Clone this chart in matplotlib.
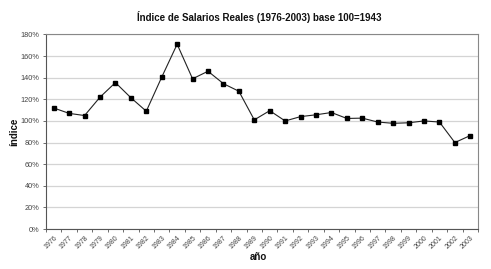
import matplotlib
matplotlib.use("Agg")
import matplotlib.pyplot as plt
from matplotlib.ticker import FixedLocator

plt.rcParams['font.family'] = ['Liberation Sans', 'DejaVu Sans']

years = [str(y) for y in range(1976, 2004)]
values = [112, 107, 105, 122, 135.5, 121.5, 109, 140.5, 171, 139, 146, 134.5, 127.5, 101,
          109.5, 100, 104, 105.7, 107.8, 102.3, 102.6, 99, 97.8, 98.3, 100, 99, 80, 86.5]
yticks = [0, 20, 40, 60, 80, 100, 120, 140, 160, 180]

fig = plt.figure(figsize=(4.91, 2.69), dpi=100)
ax = fig.add_axes([46/491, 1-229/269, (478-46)/491, (229-34.5)/269])

x = list(range(len(years)))
ax.plot(x, values, color='#222222', lw=0.8, marker='s', ms=2.4, mfc='black', mec='black')

ax.set_xlim(-0.5, len(years) - 0.5)
ax.set_ylim(0, 180)
ax.set_yticks(yticks)
ax.set_yticklabels([f"{v}%" for v in yticks], fontsize=5.3, color='#444444')
ax.set_xticks(x)
ax.set_xticklabels(years, rotation=45, ha='right', rotation_mode='anchor', fontsize=5, color='#444444')
ax.tick_params(axis='x', length=0, pad=4)
ax.xaxis.set_minor_locator(FixedLocator([i - 0.5 for i in range(len(years) + 1)]))
ax.tick_params(axis='x', which='minor', length=2.5, color='#555555', width=0.6)
ax.tick_params(axis='y', length=2, color='#555555', width=0.6, pad=2.5)

ax.grid(axis='y', color='#d4d4d4', lw=0.9)
ax.set_axisbelow(True)
for s in ['top', 'right']:
    ax.spines[s].set_color('#888888')
    ax.spines[s].set_linewidth(0.8)
for s in ['left', 'bottom']:
    ax.spines[s].set_color('#555555')
    ax.spines[s].set_linewidth(0.8)

fig.text(259/491, 1 - 17/269, "Índice de Salarios Reales (1976-2003) base 100=1943",
         ha='center', va='center', fontsize=7, fontweight='bold', color='#111111')
fig.text(14/491, 1 - 132/269, "índice", rotation=90, ha='center', va='center',
         fontsize=7, fontweight='bold', color='#111111')
fig.text(258/491, 1 - 257/269, "año", ha='center', va='center', fontsize=7,
         fontweight='bold', color='#111111')

fig.savefig("out.png", dpi=100)
